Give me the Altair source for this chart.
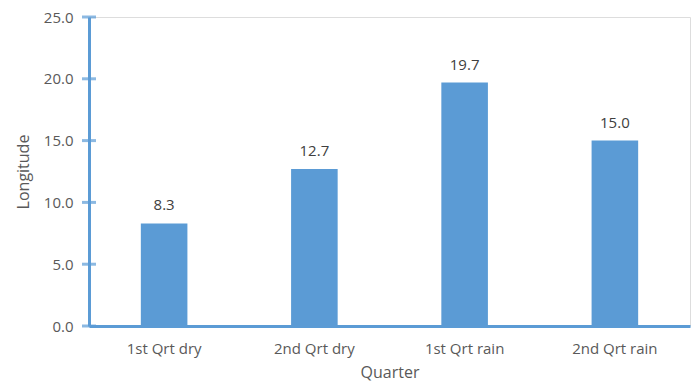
import altair as alt
import pandas as pd

quarters = ["1st Qrt dry", "2nd Qrt dry", "1st Qrt rain", "2nd Qrt rain"]
values = [8.3, 12.7, 19.7, 15.0]
y_ticks = [0, 5, 10, 15, 20, 25]

df = pd.DataFrame({"Quarter": quarters, "Longitude": values})
tick_df = pd.DataFrame({"t": y_ticks})

BLUE = "#5B9BD5"
GRAY = "#595959"
FONT = "Open Sans"

x_enc = alt.X("Quarter:N", sort=quarters,
              scale=alt.Scale(paddingInner=0.69, paddingOuter=0.345),
              axis=alt.Axis(title="Quarter", labelAngle=0, ticks=False,
                            domainColor=BLUE, domainWidth=3,
                            labelPadding=15, titlePadding=8,
                            labelFontSize=15, titleFontSize=16,
                            labelColor=GRAY, titleColor=GRAY,
                            labelFont=FONT, titleFont=FONT, titleFontWeight="normal"))
y_scale = alt.Scale(domain=[0, 25])

bars = alt.Chart(df).mark_bar(color=BLUE).encode(
    x=x_enc,
    y=alt.Y("Longitude:Q", scale=y_scale,
            axis=alt.Axis(title="Longitude", values=y_ticks, format=".1f",
                          ticks=False, grid=False, domainColor=BLUE, domainWidth=3,
                          labelPadding=16, titlePadding=12,
                          labelFontSize=15, titleFontSize=16,
                          labelColor=GRAY, titleColor=GRAY,
                          labelFont=FONT, titleFont=FONT, titleFontWeight="normal")),
)

labels = alt.Chart(df).mark_text(baseline="bottom", dy=-10, fontSize=15,
                                 color="#404040", font=FONT).encode(
    x=alt.X("Quarter:N", sort=quarters),
    y=alt.Y("Longitude:Q", scale=y_scale),
    text=alt.Text("Longitude:Q", format=".1f"),
)

ticks = alt.Chart(tick_df).mark_tick(color=BLUE, size=14, thickness=3, orient="horizontal").encode(
    x=alt.value(0),
    y=alt.Y("t:Q", scale=y_scale),
)

chart = alt.layer(bars, labels, ticks).properties(
    width=601, height=309,
    autosize=alt.AutoSizeParams(type="none"),
    padding={"left": 89, "top": 17, "right": 9, "bottom": 60},
).configure_view(stroke=None).configure(background="white")

chart.save("out.html", embed_options={"renderer": "svg", "actions": False})
